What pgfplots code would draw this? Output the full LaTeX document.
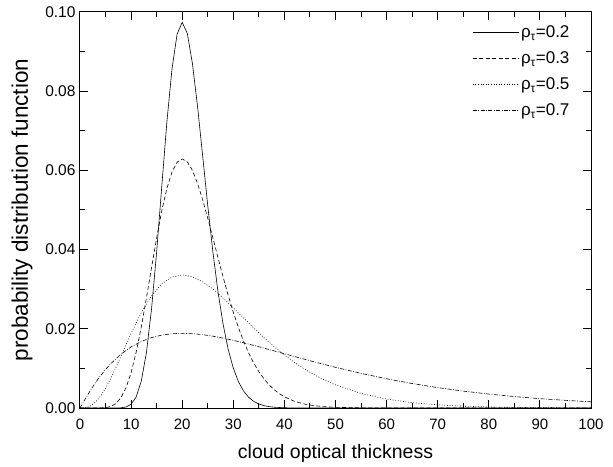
\documentclass[border=0pt]{standalone}
\usepackage{fontspec}
\setmainfont{Liberation Sans}
\usepackage{pgfplots}
\pgfplotsset{compat=1.18}
\begin{document}
\begin{tikzpicture}
\path[use as bounding box] (-80pt,-58pt) rectangle (533pt,408pt);
\begin{axis}[
  scale only axis, width=511pt, height=396pt,
  xmin=0, xmax=100, ymin=0, ymax=0.1,
  xtick={0,10,...,100}, ytick={0,0.02,...,0.1},
  minor x tick num=1, minor y tick num=1,
  tick align=inside,
  major tick length=8pt, minor tick length=5pt,
  axis line style={line width=1pt},
  every tick/.style={line width=1pt, black},
  scaled y ticks=false,
  /pgf/number format/assume math mode=true,
  xticklabel style={font=\fontsize{15}{17}\selectfont, yshift=-7pt},
  yticklabel style={font=\fontsize{15.5}{17}\selectfont, xshift=-1pt,
    /pgf/number format/fixed, /pgf/number format/fixed zerofill, /pgf/number format/precision=2},
  xlabel={cloud optical thickness},
  ylabel={probability distribution function},
  xlabel style={font=\fontsize{19.5}{22}\selectfont, at={(axis description cs:0.5,-0.114)}, anchor=center},
  ylabel style={font=\fontsize{22.5}{25}\selectfont, at={(axis description cs:-0.1135,0.5)}, anchor=center},
  legend style={at={(0.968,0.975)}, anchor=north east, draw=none, fill=none,
    font=\fontsize{17}{19}\selectfont, row sep=8.5pt},
  legend cell align=left,
  legend image code/.code={\draw[#1] (0pt,0pt) -- (46pt,0pt);},
]
\addplot[black, line width=0.6pt] coordinates {
(0,0) (6,0) (7,0.000007) (8,0.00005) (9,0.00025) (10,0.00095) (11,0.00281) (12,0.00682)
(13,0.0140) (14,0.0250) (15,0.0394) (16,0.0559) (17,0.0722) (18,0.0856) (19,0.0944)
(20,0.0974) (21,0.0946) (22,0.0870) (23,0.0762) (24,0.0637) (25,0.0511) (26,0.0395)
(27,0.0294) (28,0.0212) (29,0.0148) (30,0.01008) (31,0.00666) (32,0.00430) (33,0.00271)
(34,0.00167) (35,0.00101) (36,0.00060) (37,0.00035) (38,0.00020) (40,0.00006) (42,0.00002)
(45,0) (100,0)};
\addlegendentry{ρ\textsubscript{τ}=0.2}
\addplot[black, line width=0.6pt, dash pattern=on 4pt off 2.5pt] coordinates {
(0,0) (3,0.000002) (4,0.0000176) (5,0.000101) (6,0.000385) (7,0.00110) (8,0.00257)
(9,0.00510) (10,0.00893) (11,0.01411) (12,0.02052) (13,0.02779) (14,0.03545) (15,0.04296)
(16,0.04980) (17,0.05543) (18,0.05958) (19,0.06208) (20,0.0629) (21,0.06214) (22,0.05999)
(23,0.05671) (24,0.05260) (25,0.04794) (26,0.04299) (27,0.03798) (28,0.03309) (29,0.02846)
(30,0.02418) (31,0.02032) (32,0.01690) (33,0.01391) (34,0.01135) (35,0.00918) (36,0.00736)
(37,0.00586) (38,0.00462) (39,0.00363) (40,0.00283) (42,0.00168) (44,0.00098) (46,0.00056)
(48,0.00031) (50,0.00017) (55,0.000036) (60,0.000007) (65,0) (100,0)};
\addlegendentry{ρ\textsubscript{τ}=0.3}
\addplot[black, line width=0.6pt, dash pattern=on 0.8pt off 1.8pt] coordinates {
(0,0) (1,0.0000726) (2,0.000500) (3,0.00145) (4,0.00296) (5,0.00498) (6,0.00741)
(7,0.01013) (8,0.01301) (9,0.01595) (10,0.01883) (12,0.02410) (14,0.02835) (16,0.03136)
(18,0.03307) (20,0.03361) (22,0.03314) (24,0.03187) (26,0.03002) (28,0.02777) (30,0.02531)
(32,0.02275) (34,0.02022) (36,0.01778) (38,0.01549) (40,0.01339) (42,0.01148) (44,0.00978)
(46,0.00828) (48,0.00697) (50,0.00583) (55,0.00367) (60,0.00225) (65,0.00135) (70,0.00080)
(75,0.00046) (80,0.00027) (85,0.00015) (90,0.00008) (95,0.00004) (100,0.00002)};
\addlegendentry{ρ\textsubscript{τ}=0.5}
\addplot[black, line width=0.6pt, dash pattern=on 4pt off 1.5pt on 0.8pt off 1.5pt] coordinates {
(0,0) (1,0.00224) (2,0.00438) (3,0.00634) (4,0.00812) (5,0.00973) (6,0.01116) (8,0.01357)
(10,0.01543) (12,0.01681) (14,0.01778) (16,0.01841) (18,0.01876) (20,0.01886) (22,0.01877)
(24,0.01852) (26,0.01814) (28,0.01765) (30,0.01709) (32,0.01647) (34,0.01581) (36,0.01512)
(38,0.01442) (40,0.01370) (45,0.01194) (50,0.01027) (55,0.00874) (60,0.00738) (65,0.00618)
(70,0.00515) (75,0.00427) (80,0.00352) (85,0.00289) (90,0.00236) (95,0.00193) (100,0.00157)};
\addlegendentry{ρ\textsubscript{τ}=0.7}
\end{axis}
\end{tikzpicture}
\end{document}
